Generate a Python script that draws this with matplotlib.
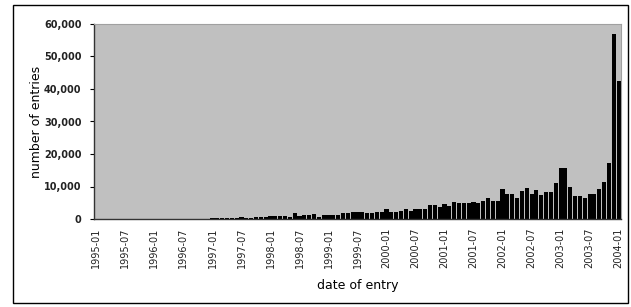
import matplotlib.pyplot as plt
import matplotlib.patches as mpatches
import pandas as pd

# monthly entries, 1995-01 .. 2004-01
months = pd.period_range("1995-01", "2004-01", freq="M").strftime("%Y-%m").tolist()

counts_1995_1996 = [0] * 24
counts_1997 = [300, 300, 300, 400, 400, 300, 500, 400, 400, 600, 600, 700]
counts_1998 = [900, 1000, 900, 1000, 700, 1700, 900, 1200, 1200, 1400, 700, 1200]
counts_1999 = [1200, 1200, 1200, 1700, 1700, 2100, 2100, 2100, 1700, 1700, 2100, 2100]
counts_2000 = [3000, 2200, 2200, 2600, 3100, 2600, 3100, 3100, 3100, 4300, 4400, 3700]
counts_2001 = [4500, 4100, 5100, 5000, 4900, 4900, 5100, 4900, 5600, 6400, 5500, 5500]
counts_2002 = [9200, 7700, 7700, 6500, 8600, 9500, 7700, 8900, 7400, 8200, 8400, 11200]
counts_2003 = [15600, 15600, 9800, 7100, 7000, 6500, 7700, 7700, 9200, 11400, 17200, 57000]
counts_2004 = [42500]

counts = (counts_1995_1996 + counts_1997 + counts_1998 + counts_1999 + counts_2000
          + counts_2001 + counts_2002 + counts_2003 + counts_2004)

y_ticks = [0, 10000, 20000, 30000, 40000, 50000, 60000]
y_labels = ["0", "10,000", "20,000", "30,000", "40,000", "50,000", "60,000"]

if __name__ == "__main__":
    fig = plt.figure(figsize=(6.31, 3.07), dpi=100)
    ax = fig.add_axes([94 / 631, 1 - 219 / 307, 527 / 631, 195 / 307])

    x = list(range(len(months)))
    ax.bar(x, counts, width=0.85, color="black", linewidth=0)

    ax.set_facecolor("#c0c0c0")
    ax.set_xlim(-0.5, len(months) - 0.5)
    ax.set_ylim(0, 60000)

    ax.set_yticks(y_ticks)
    ax.set_yticklabels(y_labels, fontsize=7, fontweight="bold", color="#222222")
    ax.set_xticks(x[::6])
    ax.set_xticklabels(months[::6], rotation=90, fontsize=7, color="#222222")
    ax.tick_params(axis="x", length=0, pad=6)
    ax.tick_params(axis="y", length=3, width=0.8, pad=6)

    for side in ["top", "right"]:
        ax.spines[side].set_color("#a0a0a0")
        ax.spines[side].set_linewidth(0.8)
    for side in ["left", "bottom"]:
        ax.spines[side].set_color("#333333")
        ax.spines[side].set_linewidth(1.0)

    ax.set_xlabel("date of entry", fontsize=9, labelpad=8)
    ax.set_ylabel("number of entries", fontsize=9, labelpad=1)

    # outer chart border
    fig.patches.append(mpatches.Rectangle(
        (13 / 631, 4 / 307), 615 / 631, 298 / 307,
        transform=fig.transFigure, fill=False, edgecolor="black", linewidth=1.0))

    plt.savefig("out.png", dpi=100)
